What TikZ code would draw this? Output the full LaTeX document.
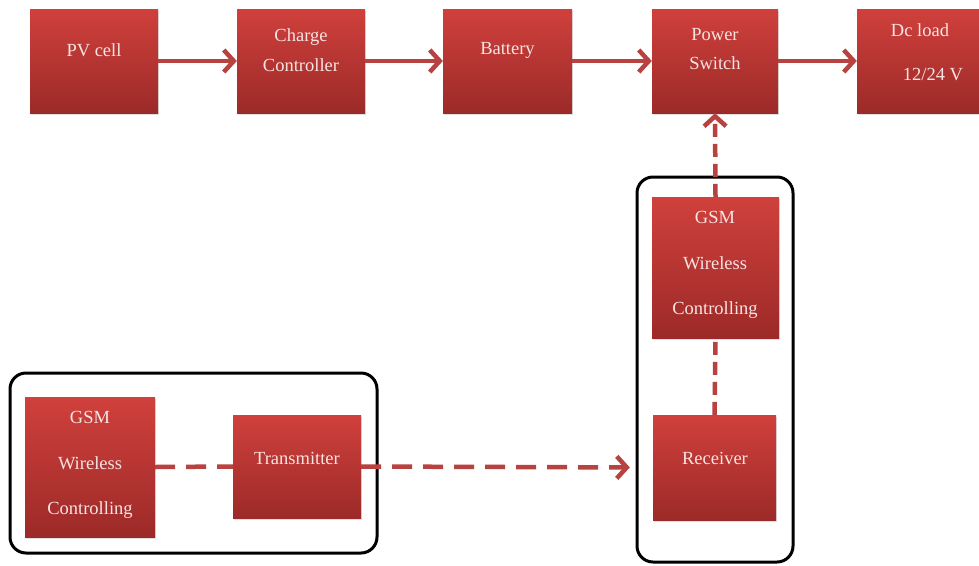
\documentclass[tikz,border=0pt]{standalone}
\usepackage{fontspec}
\setmainfont{Liberation Serif}
\usetikzlibrary{arrows.meta,shadows}
\definecolor{boxtop}{HTML}{D0403C}
\definecolor{boxbot}{HTML}{9C2A28}
\definecolor{arr}{HTML}{B8423F}
\definecolor{txt}{HTML}{F6E4E2}
\begin{document}
\begin{tikzpicture}[x=1pt,y=-1pt,
  rbox/.style={rectangle, top color=boxtop, bottom color=boxbot, draw=none, inner sep=0pt,
    drop shadow={opacity=0.25, shadow xshift=1pt, shadow yshift=-2pt}},
  lbl/.style={text=txt, font=\fontsize{18.5}{20}\selectfont, inner sep=0pt},
  group/.style={rectangle, draw=black, line width=3pt, rounded corners=16pt, inner sep=0pt, fill=white},
  tip/.style={-{Straight Barb[length=10pt,width=22pt,line width=4.5pt]}},
  flow/.style={draw=arr, line width=4.5pt, tip},
  dashedh/.style={draw=arr, line width=4.5pt, dash pattern=on 20pt off 11pt},
  dashedv/.style={draw=arr, line width=4.5pt, dash pattern=on 13pt off 7pt}]
\useasboundingbox (0,0) rectangle (979,565);
\fill[white] (0,0) rectangle (979,565);

% groups
\node[group, minimum width=156pt, minimum height=385pt] (grpR) at (715,369.5) {};
\node[group, minimum width=367pt, minimum height=180pt] (grpL) at (193.5,463) {};

% top row
\node[rbox, minimum width=128pt, minimum height=104pt] (pv) at (94,61) {};
\node[rbox, minimum width=128pt, minimum height=104pt] (cc) at (301,61) {};
\node[rbox, minimum width=129pt, minimum height=104pt] (bat) at (507.5,61) {};
\node[rbox, minimum width=126pt, minimum height=104pt] (ps) at (715,61) {};
\node[rbox, minimum width=122pt, minimum height=104pt] (dc) at (918,61) {};

% right column
\node[rbox, minimum width=127pt, minimum height=141pt] (gsmR) at (715.5,267.5) {};
\node[rbox, minimum width=123pt, minimum height=105pt] (rec) at (714.5,467.5) {};

% bottom left
\node[rbox, minimum width=130pt, minimum height=140pt] (gsmL) at (90,467) {};
\node[rbox, minimum width=128pt, minimum height=103pt] (tx) at (297,466.5) {};

% labels
\node[lbl] (pvt) at (94,50) {PV cell};
\node[lbl] (cct1) at (301,37) {Charge};
\node[lbl] (cct2) at (301,65) {Controller};
\node[lbl] (batt) at (507.5,50) {Battery};
\node[lbl] (pst1) at (715,35) {Power};
\node[lbl] (pst2) at (715,63) {Switch};
\node[lbl] (dct1) at (920,30) {Dc load};
\node[lbl] (dct2) at (933,75) {12/24 V};
\node[lbl] (gRt1) at (715,217) {GSM};
\node[lbl] (gRt2) at (715,263) {Wireless};
\node[lbl] (gRt3) at (715,310) {Controlling};
\node[lbl] (rect) at (715,458) {Receiver};
\node[lbl] (gLt1) at (90,417) {GSM};
\node[lbl] (gLt2) at (90,463) {Wireless};
\node[lbl] (gLt3) at (90,510) {Controlling};
\node[lbl] (txt1) at (297,458) {Transmitter};

% connectors
\draw[flow] (pv) -- (cc);
\draw[flow] (cc) -- (bat);
\draw[flow] (bat) -- (ps);
\draw[flow] (ps) -- (dc);
\draw[dashedv, tip] (gsmR.north) -- (ps.south);
\draw[dashedv] (rec.north) -- (gsmR.south);
\draw[dashedh] (gsmL.east) -- (tx.west);
\draw[dashedh, tip, shorten >=23pt] (tx.east) -- (rec.west);
\end{tikzpicture}
\end{document}
